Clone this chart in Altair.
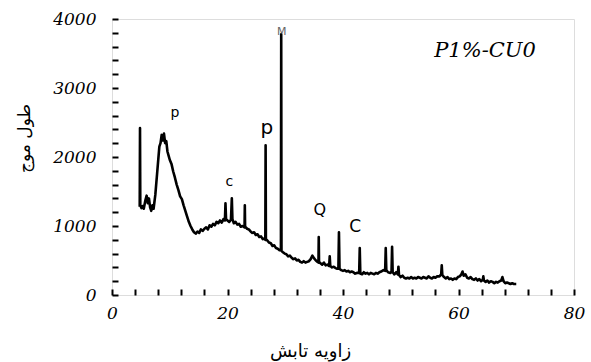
import altair as alt
import pandas as pd

# XRD trace (angle, intensity)
angle = [4.8, 4.85, 4.9, 5.1, 5.3, 5.5, 5.8, 6.0, 6.2, 6.4, 6.6, 6.8, 7.0, 7.2, 7.5, 7.8, 8.0, 8.2, 8.4, 8.6,
         8.8, 9.0, 9.2, 9.4, 9.6, 9.8, 10.0, 10.3, 10.6, 10.9, 11.2, 11.5, 11.8, 12.1, 12.4, 12.7, 13.0, 13.3,
         13.6, 13.9, 14.2, 14.5, 14.8, 15.1, 15.4, 15.7, 16.0, 16.3, 16.6, 16.9, 17.2, 17.5, 17.8, 18.1, 18.4,
         18.7, 19.0, 19.3, 19.55, 19.65, 19.75, 20.0, 20.3, 20.6, 20.75, 20.85, 21.1, 21.4, 21.7, 22.0, 22.3,
         22.6, 22.95, 23.0, 23.05, 23.4, 23.7, 24.0, 24.3, 24.6, 24.9, 25.2, 25.5, 25.8, 26.1, 26.4, 26.55,
         26.6, 26.65, 26.9, 27.2, 27.5, 27.8, 28.1, 28.4, 28.7, 29.0, 29.25, 29.3, 29.35, 29.6, 29.9, 30.2,
         30.5, 30.8, 31.1, 31.4, 31.7, 32.0, 32.3, 32.6, 32.9, 33.2, 33.5, 33.8, 34.1, 34.4, 34.7, 35.0, 35.3,
         35.6, 35.75, 35.8, 35.85, 36.1, 36.4, 36.7, 37.0, 37.3, 37.6, 37.7, 37.8, 38.1, 38.4, 38.7, 39.0,
         39.2, 39.3, 39.4, 39.7, 40.0, 40.3, 40.6, 40.9, 41.2, 41.5, 41.8, 42.1, 42.4, 42.8, 42.9, 43.0, 43.3,
         43.6, 43.9, 44.2, 44.5, 44.8, 45.1, 45.4, 45.7, 46.0, 46.3, 46.6, 47.0, 47.3, 47.4, 47.5, 47.8, 48.2,
         48.4, 48.5, 48.6, 48.9, 49.2, 49.5, 49.6, 49.7, 50.0, 50.3, 50.6, 50.9, 51.2, 51.5, 51.8, 52.1, 52.4,
         52.7, 53.0, 53.3, 53.6, 53.9, 54.2, 54.5, 54.8, 55.1, 55.4, 55.7, 56.0, 56.3, 56.7, 57.0, 57.1, 57.2,
         57.5, 57.8, 58.1, 58.4, 58.7, 59.0, 59.3, 59.6, 59.9, 60.2, 60.5, 60.7, 60.9, 61.2, 61.5, 61.8, 62.1,
         62.4, 62.7, 63.0, 63.3, 63.6, 63.9, 64.2, 64.3, 64.4, 64.7, 65.0, 65.3, 65.6, 65.9, 66.2, 66.5, 66.8,
         67.1, 67.4, 67.6, 67.8, 68.1, 68.4, 68.7, 69.0, 69.3, 69.6, 70.0]
intensity = [1280, 2420, 1300, 1260, 1290, 1250, 1380, 1440, 1330, 1400, 1270, 1220, 1300, 1250, 1450, 1750, 1950,
             2150, 2200, 2320, 2240, 2340, 2200, 2230, 2080, 2020, 1960, 1900, 1790, 1700, 1600, 1520, 1430,
             1390, 1300, 1220, 1140, 1060, 1000, 950, 910, 890, 920, 900, 950, 930, 960, 980, 950, 1010, 990,
             1030, 1010, 1060, 1040, 1080, 1050, 1100, 1080, 1330, 1100, 1080, 1060, 1090, 1400, 1100, 1040,
             1060, 1020, 1030, 990, 1000, 980, 1300, 990, 960, 950, 920, 900, 910, 870, 880, 840, 850, 810, 820,
             800, 2170, 810, 790, 760, 750, 710, 720, 680, 670, 650, 650, 3780, 640, 620, 600, 590, 560, 570,
             540, 520, 530, 500, 510, 480, 470, 490, 470, 480, 490, 520, 570, 530, 500, 480, 470, 840, 480, 460,
             440, 470, 430, 440, 420, 560, 420, 400, 410, 390, 380, 380, 910, 380, 360, 350, 360, 340, 350, 330,
             340, 330, 310, 320, 320, 680, 310, 300, 330, 310, 320, 300, 320, 310, 300, 320, 310, 330, 340, 360,
             350, 680, 360, 330, 320, 330, 700, 330, 300, 330, 300, 410, 290, 260, 280, 250, 240, 250, 240, 260,
             240, 250, 240, 260, 250, 240, 260, 250, 240, 270, 250, 240, 260, 250, 270, 270, 300, 430, 290, 260,
             240, 260, 230, 240, 220, 240, 230, 260, 270, 300, 340, 280, 300, 250, 240, 260, 230, 220, 240, 210,
             230, 200, 220, 270, 210, 190, 210, 180, 200, 190, 170, 190, 180, 200, 210, 260, 200, 170, 180, 170,
             160, 170, 160, 160]

# peak annotations
peak_labels = ["p", "p", "c", "M", "Q", "C"]
peak_x = [10.9, 26.8, 20.3, 29.4, 36.0, 42.1]
peak_y = [2640, 2420, 1640, 3810, 1230, 990]

sample_label = "P1%-CU0"
sample_x = 64.6
sample_y = 3530

x_ticks = list(range(0, 81, 4))      # labelled every 20
y_ticks = list(range(0, 4001, 200))  # labelled every 1000

x_title = "زاویه تابش"
y_title = "طول موج"

df = pd.DataFrame({"x": angle, "y": intensity})
ann = pd.DataFrame({"x": peak_x, "y": peak_y, "label": peak_labels})
samp = pd.DataFrame({"x": [sample_x], "y": [sample_y], "label": [sample_label]})

xscale = alt.Scale(domain=[0, 80], nice=False, zero=False)
yscale = alt.Scale(domain=[0, 4000], nice=False, zero=False)

lab_font = "DejaVu Serif"
ar_font = "DejaVu Sans"
TICK = 6

x_axis = alt.Axis(values=x_ticks, tickCount=100, format="d",
                  labelExpr="datum.value % 20 == 0 ? datum.label : ''",
                  offset=-TICK, ticks=True, tickSize=TICK, tickWidth=2, tickColor="black",
                  grid=False, domain=False, labelOverlap=False,
                  labelFont=lab_font, labelFontStyle="italic", labelFontSize=17, labelColor="black",
                  labelPadding=10, labelFlush=False,
                  titleFont=ar_font, titleFontSize=18, titleFontWeight="normal", titleColor="black",
                  titleX=198, titleY=62, titleAnchor="middle", titleBaseline="middle")
y_axis = alt.Axis(values=y_ticks, tickCount=100, format="d",
                  labelExpr="datum.value % 1000 == 0 ? datum.label : ''",
                  offset=-TICK, ticks=True, tickSize=TICK, tickWidth=2, tickColor="black",
                  grid=False, domain=False, labelOverlap=False,
                  labelFont=lab_font, labelFontStyle="italic", labelFontSize=17, labelColor="black",
                  labelPadding=16, labelFlush=False,
                  titleFont=ar_font, titleFontSize=17, titleFontWeight="normal", titleColor="black",
                  titleAngle=270, titleX=-94, titleY=119, titleAlign="center", titleBaseline="middle")

line = alt.Chart(df).mark_line(color="black", strokeWidth=2.6, strokeJoin="round").encode(
    x=alt.X("x:Q", scale=xscale, axis=x_axis, title=x_title),
    y=alt.Y("y:Q", scale=yscale, axis=y_axis, title=y_title),
)

label_size = {"p": 14, "c": 14, "M": 11, "Q": 16, "C": 17}
layers = [line]
for i, lab in enumerate(peak_labels):
    size = 20 if i == 1 else label_size[lab]
    layers.append(
        alt.Chart(ann.iloc[[i]]).mark_text(font=ar_font, fontSize=size,
                                           color="#666666" if lab == "M" else "black").encode(
            x=alt.X("x:Q", scale=xscale), y=alt.Y("y:Q", scale=yscale), text="label:N")
    )
layers.append(
    alt.Chart(samp).mark_text(font=lab_font, fontStyle="italic", fontSize=21, color="black").encode(
        x=alt.X("x:Q", scale=xscale), y=alt.Y("y:Q", scale=yscale), text="label:N")
)

chart = alt.layer(*layers).properties(
    width=462, height=276,
    autosize=alt.AutoSizeParams(type="none"),
    padding={"left": 112, "top": 19, "right": 17, "bottom": 67},
).configure_view(stroke="black", strokeWidth=1.8).configure(background="white")

chart.save("out.html", embed_options={"renderer": "svg", "actions": False})
